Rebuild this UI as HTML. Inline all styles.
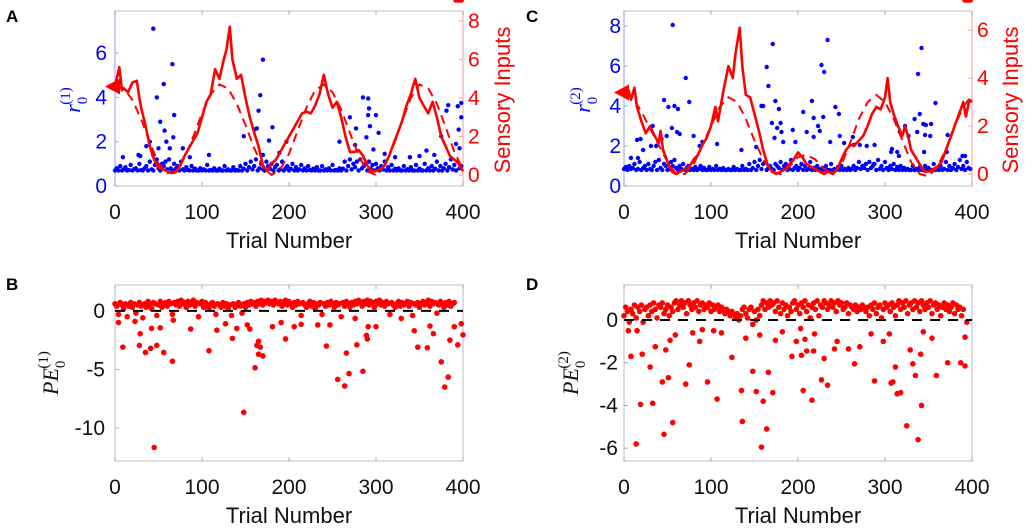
<!DOCTYPE html>
<html><head><meta charset="utf-8">
<style>
html,body{margin:0;padding:0;background:#fff;}
svg{display:block;font-family:"Liberation Sans",sans-serif;}
</style></head>
<body>
<svg id="fig" width="1034" height="531" viewBox="0 0 1034 531" xmlns="http://www.w3.org/2000/svg"></svg>
<script>
// ---------- DATA ----------
const xTicks = [0,100,200,300,400];
const leftTicksA = [0,2,4,6];
const rightTicksA = [0,2,4,6,8];
const leftTicksC = [0,2,4,6,8];
const rightTicksC = [0,2,4,6];
const ticksB = [0,-5,-10];
const ticksD = [0,-2,-4,-6];

// Panel A sensory input (solid) trials and values
const solidTA = [0,5,8,10,15,20,25,28,30,35,40,45,50,55,60,65,70,75,80,85,90,95,100,105,110,115,120,125,128,132,135,140,145,150,155,160,165,170,175,180,185,190,195,200,205,210,215,220,225,230,235,240,245,250,255,260,265,270,275,280,285,290,295,300,305,310,315,320,325,330,335,340,345,350,355,360,365,370,375,380,385,390,395,400];
const solidVA = [4.6,5.6,4.4,4.5,4.3,4.8,4.9,4.0,3.5,2.6,1.5,0.8,0.4,0.3,0.2,0.1,0.15,0.5,1.0,1.4,1.8,2.2,3.0,3.8,4.2,5.5,5.0,6.0,6.5,7.7,6.0,5.0,5.2,4.0,3.0,2.2,1.5,0.5,0.2,0.6,0.8,1.2,1.6,2.0,2.4,2.8,3.2,3.3,3.2,3.6,4.2,5.2,4.2,3.5,3.8,3.0,2.0,1.2,1.2,1.3,1.0,0.5,0.2,0.2,0.3,0.5,1.0,1.6,2.2,2.8,3.6,4.2,5.0,4.0,3.6,3.2,3.8,3.0,2.0,1.5,1.0,0.8,0.6,0.2];
const dashTA = [0,10,20,30,40,50,60,70,80,90,100,110,120,130,140,150,160,170,180,190,200,210,220,230,240,250,260,270,280,290,300,310,320,330,340,350,360,370,380,390,400];
const dashVA = [4.6,4.5,3.9,2.9,1.7,0.6,0.1,0.2,0.9,2.0,3.2,4.2,4.7,4.5,3.7,2.6,1.4,0.4,0.0,0.3,1.1,2.3,3.5,4.4,4.7,4.3,3.4,2.2,1.0,0.2,0.0,0.5,1.5,2.8,4.0,4.7,4.5,3.7,2.5,1.2,0.3];
// Panel A r0 scatter: dense baseline every 2 trials, plus outliers
const baseA = [0.7,0.8,0.7,0.9,0.7,0.75,0.85,0.7,0.72,0.95,0.7,0.76,0.8,0.7,1.0,0.72,0.7,0.8,0.9,0.7,1.1,0.75,0.7,0.95,1.2,0.8,0.7,1.0,0.9,1.1,0.75,1.2,0.8,0.7,1.0,0.78,0.9,0.7,1.1,0.75,0.7,0.85,0.72,0.7,0.9,0.7,0.78,0.7,0.7,0.8,0.7,0.75,0.7,0.95,0.7,0.72,0.7,0.8,0.7,0.7,0.78,0.7,0.7,0.9,0.7,0.75,0.7,0.7,0.85,0.7,0.72,0.7,0.9,0.7,0.78,1.0,0.7,0.85,1.1,0.75,0.9,1.2,0.7,0.8,1.0,0.75,0.7,1.1,0.9,0.78,1.0,0.7,0.85,0.95,0.7,0.75,1.1,0.7,0.8,0.9,0.7,0.78,1.0,0.7,0.85,0.7,0.75,0.95,0.7,0.8,0.7,0.9,0.72,0.7,0.78,0.7,0.85,0.7,0.7,0.9,0.7,0.75,0.7,0.8,0.7,0.95,0.7,0.72,0.7,0.8,0.7,0.78,1.1,0.7,0.9,1.2,0.75,1.0,0.85,1.1,0.7,1.2,0.8,0.9,1.0,0.7,1.1,0.78,0.95,0.7,1.0,0.8,0.7,0.9,0.75,1.1,0.7,0.85,0.7,0.95,0.7,0.78,0.7,0.8,0.7,0.7,0.9,0.7,0.75,0.7,0.85,0.7,0.7,0.95,0.7,0.78,0.7,0.7,1.0,0.7,0.8,0.7,0.9,0.7,0.78,1.1,0.7,0.9,0.7,0.8,1.0,0.7,0.85,1.2,0.75,0.95,0.7,1.1,0.8,0.9];
const outTA = [44,48,52,56,66,68,67,57,40,36,44,50,59,63,78,86,108,148,160,163,165,167,170,170,181,177,197,189,258,270,277,285,291,292,291,293,289,300,303,276,297,310,322,358,381,383,394,398,398,395,375,392,396,367,350,339,9,29,27];
const outVA = [7.1,4.0,2.9,4.6,5.5,3.2,2.2,2.5,2.0,1.8,1.4,1.7,2.0,1.7,1.7,1.3,1.4,2.25,2.55,2.6,3.4,4.1,5.7,1.4,2.65,2.05,2.0,1.5,2.0,3.1,2.6,4.0,3.95,3.5,3.2,2.7,2.2,3.2,2.4,1.85,1.65,1.45,1.3,1.6,3.4,3.65,3.6,3.75,3.1,2.55,2.25,1.9,1.7,1.4,1.35,1.3,1.3,1.35,1.4];

// Panel C
const solidTC = [0,5,8,12,15,20,25,30,35,40,42,45,50,55,60,65,70,75,80,85,90,95,100,105,108,112,115,120,125,128,133,136,140,145,150,155,160,165,170,175,180,185,190,195,200,205,210,215,220,225,230,235,240,245,250,255,260,265,270,275,280,285,290,295,300,303,306,310,315,320,323,327,330,335,340,345,350,355,360,365,370,375,380,385,390,393,397,400];
const solidVC = [3.4,3.5,3.1,3.6,2.8,2.2,1.7,2.0,1.6,1.3,1.8,1.0,0.5,0.1,0.0,0.1,0.2,0.3,0.6,0.8,1.2,1.5,2.0,2.8,2.2,3.0,3.6,4.5,4.0,5.0,6.1,4.5,3.3,3.2,2.5,1.8,1.0,0.4,0.1,0.0,0.1,0.2,0.4,0.6,0.9,0.7,0.4,0.3,0.2,0.1,0.0,0.1,0.0,0.2,0.6,1.0,1.2,1.2,1.4,1.6,2.0,2.5,2.8,2.7,3.2,4.0,3.0,2.5,2.0,1.6,2.0,1.5,1.0,0.7,0.4,0.1,0.1,0.2,0.3,0.5,1.0,1.5,2.0,2.5,3.0,2.4,3.1,3.0];
const dashTC = [0,10,20,30,40,50,60,70,80,90,100,110,120,130,140,150,160,170,180,190,200,210,220,230,240,250,260,270,280,290,300,310,320,330,340,350,360,370,380,390,400];
const dashVC = [3.4,3.2,2.6,1.9,1.2,0.5,0.0,0.0,0.4,1.2,2.0,2.8,3.2,3.0,2.3,1.4,0.6,0.1,0.0,0.3,0.7,0.8,0.6,0.2,0.0,0.4,1.3,2.3,3.0,3.3,3.0,2.3,1.4,0.5,0.0,-0.1,0.3,1.0,2.0,2.8,3.3];
const baseC = [0.85,0.95,0.8,1.0,0.85,0.9,1.1,0.8,0.85,1.2,0.8,0.9,1.0,0.8,1.1,0.85,0.8,1.0,1.2,0.8,1.3,0.9,0.8,1.1,1.0,0.8,0.85,1.2,1.0,1.3,0.9,0.8,1.0,0.85,1.1,0.8,0.9,1.0,0.8,0.85,0.8,0.95,0.8,0.85,1.0,0.8,0.9,0.8,0.8,0.95,0.8,0.85,0.8,1.0,0.8,0.85,0.8,0.9,0.8,0.8,0.85,0.8,0.8,0.95,0.8,0.85,0.8,0.8,1.0,0.8,0.85,0.8,1.1,0.8,0.9,1.2,0.8,1.0,1.3,0.85,1.1,1.2,0.8,0.9,1.0,0.85,0.8,1.1,1.0,0.9,1.2,0.8,1.0,1.1,0.8,0.85,1.3,0.8,0.9,1.0,0.8,0.9,1.1,0.8,1.0,0.8,0.85,1.2,0.8,0.9,0.8,1.0,0.85,0.8,0.9,0.8,1.0,0.8,0.8,1.1,0.8,0.85,0.8,0.95,0.8,1.0,0.8,0.85,0.8,0.9,0.8,0.85,1.0,0.8,0.9,1.2,0.85,1.0,0.9,1.1,0.8,1.2,0.9,1.0,1.1,0.8,1.3,0.85,1.0,0.8,1.2,0.9,0.8,1.0,0.85,1.1,0.8,0.95,0.8,1.0,0.8,0.9,0.8,0.85,0.8,0.8,1.0,0.8,0.85,0.8,0.95,0.8,0.8,1.0,0.8,0.9,0.8,0.8,1.1,0.8,0.9,0.8,1.0,0.8,0.85,1.2,0.8,1.0,0.8,0.9,1.1,0.8,0.95,1.3,0.85,1.0,0.8,1.2,0.9,0.85];
const outTC = [56,46,51,58,62,71,75,80,87,90,55,61,64,49,15,19,22,33,31,37,43,16,8,107,135,152,164,166,158,160,171,174,178,170,176,173,181,180,194,183,197,206,210,216,218,223,218,227,230,234,229,225,243,247,237,248,253,263,264,271,288,308,314,317,323,327,337,334,338,342,340,344,347,353,346,345,352,358,372,371,389,392,307,316,279,287];
const outVC = [8.05,4.3,3.95,4.0,3.85,5.4,4.2,2.5,2.0,2.2,2.9,2.7,2.6,2.5,2.3,2.35,1.8,3.0,2.0,2.0,2.35,1.4,1.4,2.1,1.8,1.95,5.95,5.0,4.0,4.0,7.1,4.25,3.85,3.15,2.9,2.4,2.7,3.15,2.8,2.2,2.2,3.7,2.7,4.25,3.4,3.0,2.45,6.05,5.7,7.3,3.45,2.75,3.95,3.6,2.2,2.5,2.15,2.45,2.05,2.05,2.05,1.85,1.7,2.7,3.0,2.5,2.7,3.35,5.6,6.9,3.6,3.1,3.05,3.1,2.55,1.7,2.5,4.15,2.55,1.7,1.5,1.5,1.7,1.5,2.0,1.1];

// Panel B prediction errors
const bandB = [0.6,0.4,-0.3,0.7,0.5,0.2,0.6,-0.5,0.4,0.7,0.3,0.6,-0.2,0.5,0.7,0.4,-0.6,0.6,0.3,0.8,0.5,0.2,0.7,0.6,-0.4,0.5,0.8,0.3,0.6,0.7,0.4,0.8,0.6,-0.3,0.7,0.5,0.8,0.4,0.9,0.6,0.7,0.3,0.8,0.5,0.6,0.9,0.4,0.7,-0.5,0.6,0.8,0.3,0.7,0.5,0.2,0.6,0.7,0.4,-0.3,0.6,0.5,0.3,0.7,0.4,0.6,0.2,0.5,-0.4,0.6,0.3,0.5,0.7,0.4,-0.2,0.6,0.3,0.7,0.5,0.8,0.6,0.7,0.4,0.8,0.6,0.9,0.5,0.8,0.7,0.9,0.6,0.8,0.5,0.9,0.7,0.6,0.8,0.4,0.7,0.9,0.5,0.8,0.6,0.3,0.7,0.5,0.8,0.6,-0.4,0.7,0.5,0.3,0.6,0.8,0.4,0.7,0.2,0.6,0.5,0.7,-0.3,0.6,0.4,0.7,0.5,0.8,0.6,0.3,0.7,0.5,0.6,-0.5,0.7,0.4,0.8,0.6,0.3,0.7,0.5,0.8,0.6,0.9,0.7,0.4,0.8,0.6,0.9,0.5,0.8,0.7,0.3,0.8,0.6,0.9,0.5,0.7,0.4,0.8,0.6,-0.3,0.7,0.5,0.3,0.6,0.8,0.4,0.7,0.5,0.6,0.8,0.4,0.7,-0.4,0.6,0.5,0.7,0.3,0.6,0.8,0.5,0.7,0.9,0.4,0.8,0.6,0.7,-0.2,0.5,0.8,0.6,0.3,0.7,0.5,0.8,0.4,0.6,0.7];
const outTB = [4,9,23,29,28,35,41,42,48,52,56,66,45,67,87,108,117,127,135,140,148,152,155,161,163,165,165,167,170,181,191,196,206,214,233,243,247,256,264,266,269,276,278,285,289,290,291,300,329,344,348,359,362,366,375,379,383,385,390,394,398,400];
const outVB = [-1.0,-3.1,-0.9,-1.95,-2.95,-3.55,-3.2,-1.5,-2.95,-1.45,-3.55,-4.3,-11.65,-0.8,-1.55,-3.4,-1.65,-1.1,-2.35,-1.5,-8.65,-1.2,-1.55,-4.85,-2.95,-2.6,-3.7,-3.1,-3.85,-1.35,-1.0,-2.4,-1.35,-1.15,-1.2,-3.0,-1.2,-5.85,-6.4,-3.6,-5.35,-0.65,-2.9,-5.15,-2.1,-2.4,-1.35,-1.35,-0.65,-1.7,-3.1,-3.15,-1.3,-1.95,-4.35,-6.5,-5.65,-2.5,-1.35,-2.9,-1.1,-2.05];

// Panel D prediction errors
const bandD = [0.2,0.6,0.4,-0.1,0.5,0.3,0.7,0.1,0.6,0.4,0.7,-0.1,0.5,0.6,0.2,0.7,0.4,0.8,0.5,0.1,0.7,0.6,0.8,0.3,0.5,0.7,0.2,0.6,0.4,0.8,0.9,0.5,0.7,0.9,0.6,0.8,0.3,0.9,0.7,0.5,0.8,0.6,0.9,0.4,0.7,0.8,0.5,0.7,0.6,0.8,0.4,0.7,0.5,0.6,0.7,0.4,0.6,0.5,0.3,0.5,0.4,0.2,0.4,0.3,0.1,0.3,0.0,0.2,0.5,0.6,0.3,0.1,0.5,0.6,-0.2,0.4,0.0,0.5,0.2,0.7,0.9,0.5,0.8,0.6,0.9,0.7,0.8,0.4,0.9,0.6,0.3,0.8,0.5,0.7,0.2,0.6,0.4,0.8,0.9,0.5,0.7,0.3,0.8,0.6,0.9,0.4,0.7,0.1,0.6,0.8,0.5,0.9,0.2,0.7,0.6,0.9,0.8,0.5,0.7,0.9,0.6,0.8,0.4,0.9,0.7,0.8,0.5,0.6,0.8,0.3,0.7,0.6,0.5,0.7,0.4,0.6,0.5,0.7,0.6,0.4,0.6,0.2,0.7,0.5,0.8,0.3,0.6,0.7,0.1,0.5,0.8,0.6,0.7,0.4,0.8,0.6,0.2,0.7,0.9,0.5,0.8,0.6,0.9,0.3,0.7,0.8,0.5,0.9,0.6,0.8,0.4,0.9,0.7,0.5,0.8,0.6,0.9,0.3,0.7,0.8,0.5,0.7,0.2,0.6,0.8,0.5,0.7,0.4,0.6,0.8,0.3,0.7,0.5,0.6,0.2,0.5];
const outTD = [5,8,14,15,19,21,30,33,36,44,46,48,51,56,53,59,71,75,79,87,90,96,103,107,112,124,135,136,140,148,152,156,158,160,164,166,171,174,182,193,198,203,204,206,208,210,216,218,219,227,230,234,242,245,258,265,271,284,288,298,305,307,309,312,314,318,325,329,332,335,338,341,342,344,354,359,372,387,392,392,394];
const outVD = [-0.5,-1.7,-5.8,-0.5,-3.95,-1.6,-2.2,-3.9,-1.25,-2.9,-5.35,-1.4,-2.7,-4.8,-0.95,-0.7,-3.0,-2.1,-0.6,-1.0,-0.45,-2.9,-0.5,-3.7,-0.6,-1.75,-3.3,-4.75,-0.85,-2.4,-3.35,-0.7,-5.95,-3.8,-5.1,-2.45,-3.4,-0.95,-0.55,-1.7,-1.0,-0.4,-1.65,-3.3,-0.9,-1.45,-3.75,-1.45,-0.65,-2.8,-1.8,-3.05,-1.35,-1.0,-1.35,-2.05,-1.25,-0.65,-2.85,-1.0,-0.65,-2.95,-2.9,-2.2,-3.45,-3.4,-4.95,-1.4,-2.05,-2.6,-5.6,-1.6,-4.0,-0.55,-0.85,-2.6,-2.0,-2.0,-2.15,-0.8,-0.1];

// ---------- DRAWING ----------
const NS = "http://www.w3.org/2000/svg";
const svg = document.getElementById('fig');
function mk(tag, attrs, parent){
  const e = document.createElementNS(NS, tag);
  for (const k in attrs) e.setAttribute(k, attrs[k]);
  (parent||svg).appendChild(e);
  return e;
}
function axisX(px){ return t => px.x0 + (t - 0) / 400 * (px.x1 - px.x0); }
function axisY(px, lo, hi){ return v => px.yb - (v - lo) / (hi - lo) * (px.yb - px.yt); }

function panel(opt){
  const g = mk('g', {});
  
  
  const px = opt.px;
  const X = axisX(px);
  // frame
  const fr = mk('rect', {x:px.x0, y:px.yt, width:px.x1-px.x0, height:px.yb-px.yt, fill:'none', stroke:'#c8c8c8', 'stroke-width':1.2}, g);
  
  
  if (opt.leftColor) mk('line', {x1:px.x0, y1:px.yt, x2:px.x0, y2:px.yb, stroke:'#b8b8ff', 'stroke-width':1.3}, g);
  if (opt.rightColor) mk('line', {x1:px.x1, y1:px.yt, x2:px.x1, y2:px.yb, stroke:'#ffb8b8', 'stroke-width':1.3}, g);
  // x ticks
  xTicks.forEach(t => {
    const x = X(t);
    mk('line', {x1:x, y1:px.yb, x2:x, y2:px.yb-4, stroke:'#aaa'}, g);
    mk('line', {x1:x, y1:px.yt, x2:x, y2:px.yt+4, stroke:'#aaa'}, g);
    const tx = mk('text', {x:x, y:px.yb+33, 'font-size':21, 'text-anchor':'middle', fill:'#111'}, g);
    tx.textContent = t;
    
    
  });
  const xt = mk('text', {x:(px.x0+px.x1)/2, y:px.yb+62, 'font-size':22, 'text-anchor':'middle', fill:'#111'}, g);
  xt.textContent = 'Trial Number';
  
  
  // left ticks
  const YL = axisY(px, opt.lo, opt.hi);
  opt.lticks.forEach(v => {
    const y = YL(v);
    mk('line', {x1:px.x0, y1:y, x2:px.x0+4, y2:y, stroke:'#aaa'}, g);
    const tl = mk('text', {x:opt.lLabelX, y:y+7, 'font-size':21, 'text-anchor':'end', fill:opt.leftColor||'#111'}, g);
    tl.textContent = v;
    
    
  });
  // label
  const panelLbl = mk('text', {x:opt.letterX, y:opt.letterY, 'font-size':17, 'font-weight':'bold', fill:'#000'}, g);
  panelLbl.textContent = opt.letter;
  
  
  // y label
  const yl = mk('text', {transform:`translate(${opt.ylx},${opt.yly}) rotate(-90)`, 'font-size':22, 'text-anchor':'middle', fill:opt.leftColor||'#111', 'font-family':'"Liberation Serif",serif', 'font-style':'italic'}, g);
  
  
  yl.innerHTML = opt.ylab + `<tspan font-style="normal" font-size="15" dy="7">0</tspan><tspan font-style="normal" font-size="15" dx="-8" dy="-17">(${opt.idx})</tspan>`;
  return {g, X, YL};
}

function dots(g, X, Y, ts, vs, r, color, name){
  ts.forEach((t,i) => {
    const c = mk('circle', {cx:X(t), cy:Y(vs[i]), r:r, fill:color}, g);
    
    
  });
}
function line(g, X, Y, ts, vs, attrs, name){
  const d = ts.map((t,i)=>(i?'L':'M')+X(t).toFixed(1)+','+Y(vs[i]).toFixed(1)).join(' ');
  const p = mk('path', Object.assign({d:d, fill:'none'}, attrs), g);
  
  
}
const evenT = baseA.map((_,i)=>i*2);

function topPanel(o){
  const P = panel(o);
  const YR = axisY(o.px, o.rlo, o.rhi);
  o.rticks.forEach(v => {
    const y = YR(v);
    mk('line', {x1:o.px.x1, y1:y, x2:o.px.x1-4, y2:y, stroke:'#f99'}, P.g);
    const tr = mk('text', {x:o.px.x1+5, y:y+7, 'font-size':21, fill:'#f00'}, P.g);
    tr.textContent = v;
    
    
  });
  const st = mk('text', {transform:`translate(${o.srx},${o.sry}) rotate(-90)`, 'font-size':22, 'text-anchor':'middle', fill:'#f00'}, P.g);
  st.textContent = 'Sensory Inputs';
  
  
  dots(P.g, P.X, P.YL, evenT, o.base, 2.2, '#0000ff', 'r0-point');
  dots(P.g, P.X, P.YL, o.outT, o.outV, 2.2, '#0000ff', 'r0-point');
  line(P.g, P.X, YR, o.dT, o.dV, {stroke:'#ff0000', 'stroke-width':2, 'stroke-dasharray':'9,6'}, 'sensory-mean-dashed');
  line(P.g, P.X, YR, o.sT, o.sV, {stroke:'#ff0000', 'stroke-width':2.6, 'stroke-linejoin':'round'}, 'sensory-input-line');
  const y0 = YR(o.sV[0]);
  const tri = mk('polygon', {points:`${o.px.x0-10},${y0} ${o.px.x0+5},${y0-8} ${o.px.x0+5},${y0+8}`, fill:'#ff0000'}, P.g);
  
  
}
function botPanel(o){
  const P = panel(o);
  const z = P.YL(0);
  dots(P.g, P.X, P.YL, evenT, o.band, 2.8, '#ff0000', 'pe-point');
  dots(P.g, P.X, P.YL, o.outT, o.outV, 2.8, '#ff0000', 'pe-point');
  const zl = mk('line', {x1:o.px.x0, y1:z, x2:o.px.x1, y2:z, stroke:'#000', 'stroke-width':2, 'stroke-dasharray':'10,8'}, P.g);
  
  
}

topPanel({name:'panel-a', letter:'A', letterX:6, letterY:22, px:{x0:115,x1:463,yt:11,yb:186}, lo:0, hi:7.9, lticks:leftTicksA, lLabelX:107, leftColor:'#0000ff', rightColor:'#f00',
  rlo:-0.57, rhi:8.52, rticks:rightTicksA, ylx:80, yly:100, ylab:'r', idx:1, srx:510, sry:100,
  base:baseA, outT:outTA, outV:outVA, sT:solidTA, sV:solidVA, dT:dashTA, dV:dashVA});
topPanel({name:'panel-c', letter:'C', letterX:526, letterY:22, px:{x0:624,x1:972,yt:11,yb:186}, lo:0, hi:8.75, lticks:leftTicksC, lLabelX:621, leftColor:'#0000ff', rightColor:'#f00',
  rlo:-0.5, rhi:6.8, rticks:rightTicksC, ylx:590, yly:100, ylab:'r', idx:2, srx:1018, sry:100,
  base:baseC, outT:outTC, outV:outVC, sT:solidTC, sV:solidVC, dT:dashTC, dV:dashVC});
botPanel({name:'panel-b', letter:'B', letterX:6, letterY:290, px:{x0:115,x1:463,yt:285,yb:461}, lo:-12.8, hi:2.2, lticks:ticksB, lLabelX:105, ylx:58, yly:373, ylab:'PE', idx:1,
  band:bandB, outT:outTB, outV:outVB});
botPanel({name:'panel-d', letter:'D', letterX:526, letterY:290, px:{x0:624,x1:972,yt:285,yb:461}, lo:-6.6, hi:1.64, lticks:ticksD, lLabelX:618, ylx:578, yly:373, ylab:'PE', idx:2,
  band:bandD, outT:outTD, outV:outVD});
</script>
</body></html>
